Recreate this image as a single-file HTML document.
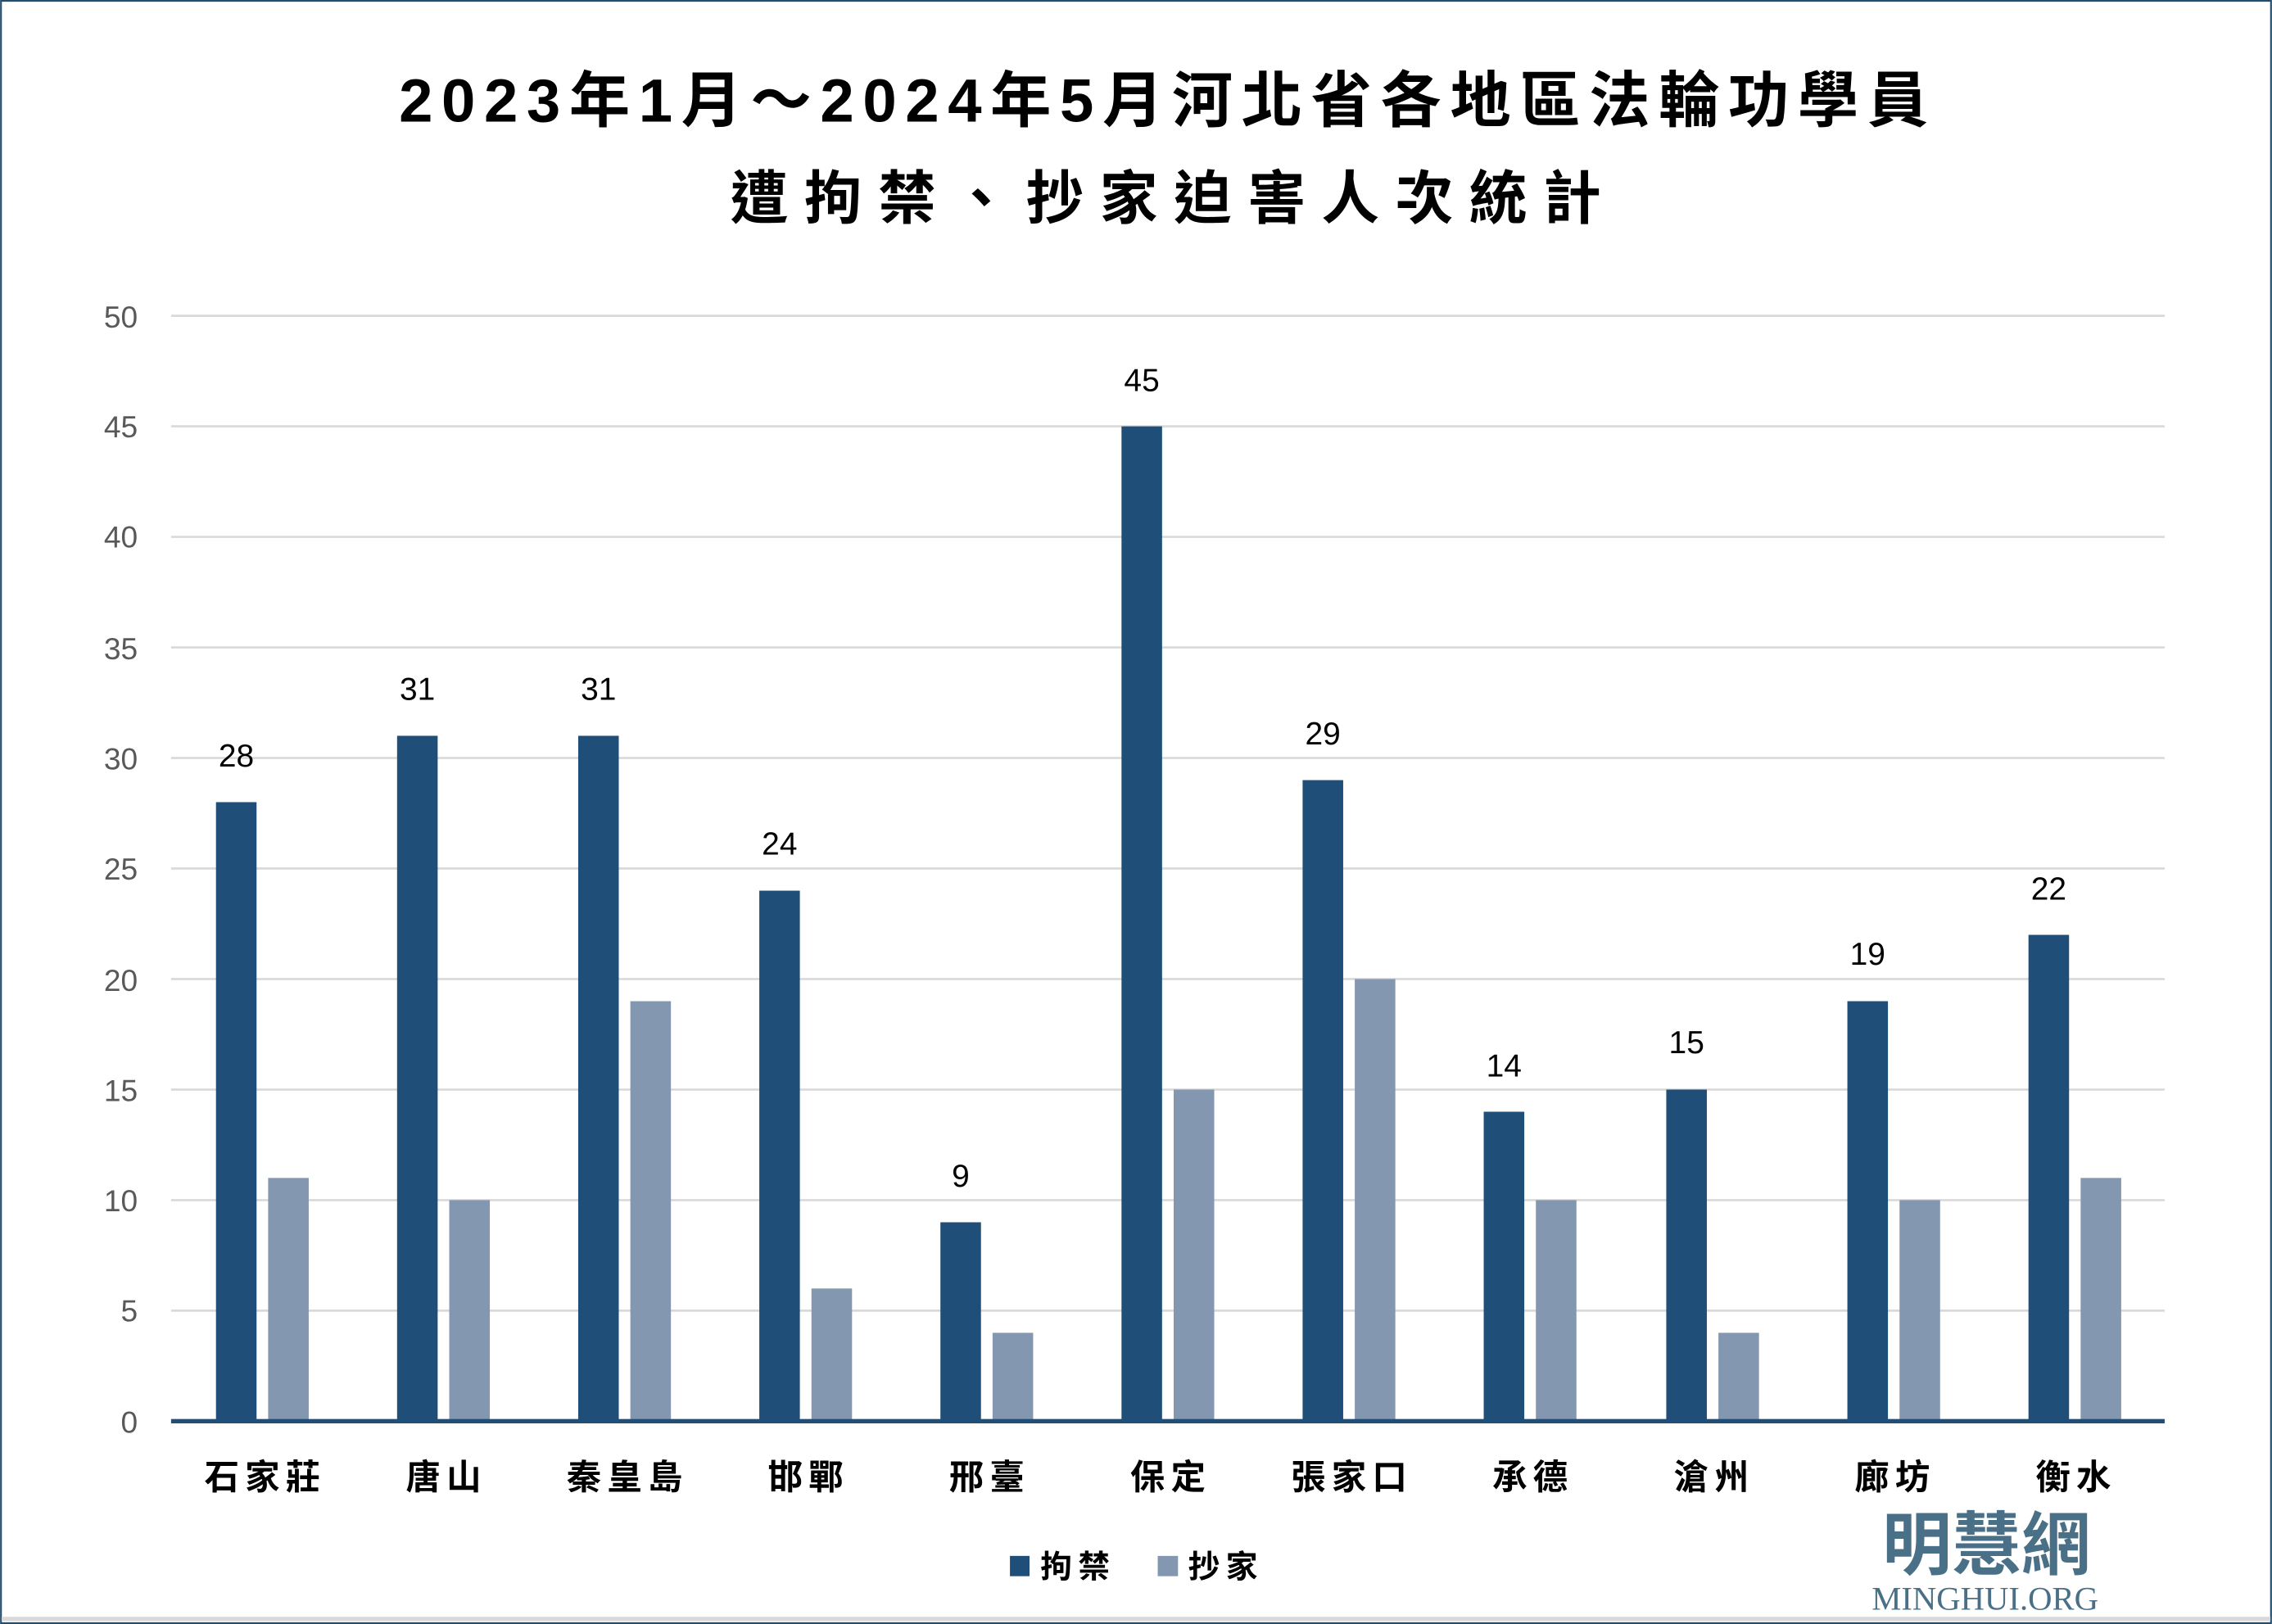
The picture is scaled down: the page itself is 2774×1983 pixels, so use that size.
<!DOCTYPE html>
<html><head><meta charset="utf-8"><style>
html,body{margin:0;padding:0;background:#fff}
svg{display:block}
</style></head><body>
<svg width="2774" height="1983" viewBox="0 0 1568 1121" xmlns="http://www.w3.org/2000/svg" style="font-family:'Liberation Sans','Noto Sans CJK TC',sans-serif">
<rect x="0" y="0" width="1568" height="1121" fill="#fff"/>
<rect x="0.6" y="0.6" width="1566.8" height="1119.8" fill="none" stroke="#1f4e6e" stroke-width="1.2"/>
<rect x="1" y="1116" width="1566" height="3" fill="#d9d9d9"/>
<g font-weight="bold" fill="#000" text-anchor="middle">
<text x="806" y="84" font-size="42" letter-spacing="6">2023年1月～2024年5月河北省各地區法輪功學員</text>
<text x="810" y="151" font-size="40" letter-spacing="11">遭拘禁、抄家迫害人次統計</text>
</g>
<g stroke="#d9d9d9" stroke-width="1.5">
<line x1="118" x2="1494" y1="218" y2="218"/>
<line x1="118" x2="1494" y1="294.3" y2="294.3"/>
<line x1="118" x2="1494" y1="370.6" y2="370.6"/>
<line x1="118" x2="1494" y1="446.9" y2="446.9"/>
<line x1="118" x2="1494" y1="523.2" y2="523.2"/>
<line x1="118" x2="1494" y1="599.5" y2="599.5"/>
<line x1="118" x2="1494" y1="675.8" y2="675.8"/>
<line x1="118" x2="1494" y1="752.1" y2="752.1"/>
<line x1="118" x2="1494" y1="828.4" y2="828.4"/>
<line x1="118" x2="1494" y1="904.7" y2="904.7"/>
</g>
<g fill="#595959" font-size="21" text-anchor="end">
<text x="95" y="226">50</text><text x="95" y="302">45</text><text x="95" y="378">40</text>
<text x="95" y="455">35</text><text x="95" y="531">30</text><text x="95" y="607">25</text>
<text x="95" y="684">20</text><text x="95" y="760">15</text><text x="95" y="836">10</text>
<text x="95" y="912">5</text><text x="95" y="989">0</text>
</g>
<g>
<rect x="149" y="553.7" width="28" height="427.3" fill="#1f4e79"/><rect x="185" y="813.1" width="28" height="167.9" fill="#8497b0"/>
<rect x="274" y="507.9" width="28" height="473.1" fill="#1f4e79"/><rect x="310" y="828.4" width="28" height="152.6" fill="#8497b0"/>
<rect x="399" y="507.9" width="28" height="473.1" fill="#1f4e79"/><rect x="435" y="691.1" width="28" height="289.9" fill="#8497b0"/>
<rect x="524" y="614.8" width="28" height="366.2" fill="#1f4e79"/><rect x="560" y="889.4" width="28" height="91.6" fill="#8497b0"/>
<rect x="649" y="843.7" width="28" height="137.3" fill="#1f4e79"/><rect x="685" y="920" width="28" height="61" fill="#8497b0"/>
<rect x="774" y="294.3" width="28" height="686.7" fill="#1f4e79"/><rect x="810" y="752.1" width="28" height="228.9" fill="#8497b0"/>
<rect x="899" y="538.5" width="28" height="442.5" fill="#1f4e79"/><rect x="935" y="675.8" width="28" height="305.2" fill="#8497b0"/>
<rect x="1024" y="767.4" width="28" height="213.6" fill="#1f4e79"/><rect x="1060" y="828.4" width="28" height="152.6" fill="#8497b0"/>
<rect x="1150" y="752.1" width="28" height="228.9" fill="#1f4e79"/><rect x="1186" y="920" width="28" height="61" fill="#8497b0"/>
<rect x="1275" y="691.1" width="28" height="289.9" fill="#1f4e79"/><rect x="1311" y="828.4" width="28" height="152.6" fill="#8497b0"/>
<rect x="1400" y="645.3" width="28" height="335.7" fill="#1f4e79"/><rect x="1436" y="813.1" width="28" height="167.9" fill="#8497b0"/>
</g>
<rect x="118" y="979.5" width="1376" height="3" fill="#1f4e79"/>
<g fill="#000" font-size="22" text-anchor="middle">
<text x="163" y="529">28</text><text x="288" y="483">31</text><text x="413" y="483">31</text>
<text x="538" y="590">24</text><text x="663" y="819">9</text><text x="788" y="270">45</text>
<text x="913" y="514">29</text><text x="1038" y="743">14</text><text x="1164" y="727">15</text>
<text x="1289" y="666">19</text><text x="1414" y="621">22</text>
</g>
<g fill="#000" font-size="24" font-weight="bold" text-anchor="middle" letter-spacing="4">
<text x="183" y="1028">石家莊</text><text x="308" y="1028">唐山</text><text x="433" y="1028">秦皇島</text>
<text x="558" y="1028">邯鄲</text><text x="683" y="1028">邢臺</text><text x="808" y="1028">保定</text>
<text x="933" y="1028">張家口</text><text x="1058" y="1028">承德</text><text x="1183" y="1028">滄州</text>
<text x="1308" y="1028">廊坊</text><text x="1433" y="1028">衡水</text>
</g>
<rect x="697" y="1074" width="13.5" height="14" fill="#1f4e79"/>
<rect x="799" y="1074" width="14" height="14" fill="#8497b0"/>
<g fill="#000" font-size="22" font-weight="bold" letter-spacing="4">
<text x="718" y="1089">拘禁</text><text x="820" y="1089">抄家</text>
</g>
<text x="1371" y="1083" text-anchor="middle" fill="#4a7088" font-size="48" font-weight="bold" style="font-family:'Noto Sans CJK TC',sans-serif">明慧網</text>
<text x="1370" y="1111" text-anchor="middle" fill="#4a7088" font-size="23" style="font-family:'Liberation Serif',serif">MINGHUI.ORG</text>
</svg>
</body></html>
